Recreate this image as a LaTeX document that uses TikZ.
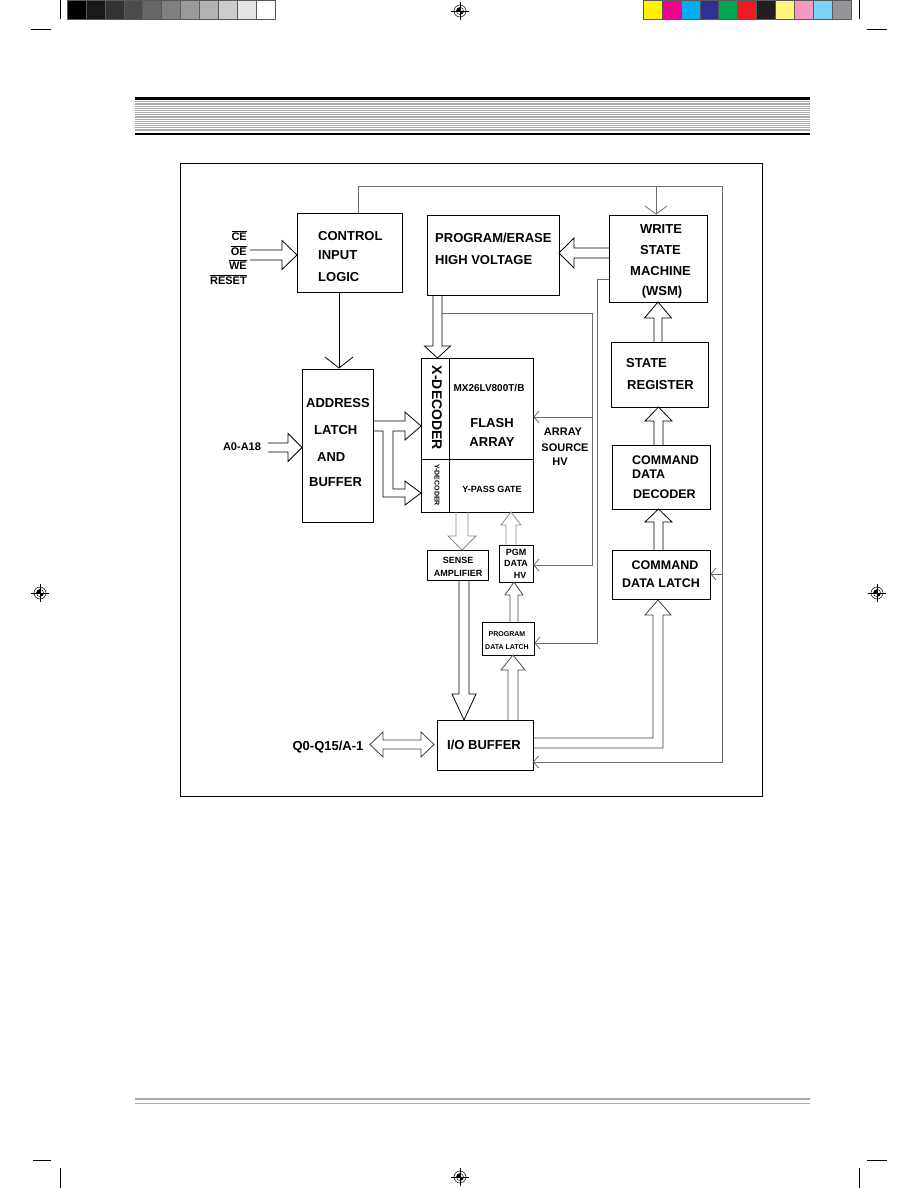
\documentclass[tikz,border=0pt]{standalone}
\usepackage{fontspec}
\setmainfont{Liberation Sans}
\usetikzlibrary{arrows.meta,calc}
\definecolor{cy}{HTML}{FFF200}
\definecolor{cm}{HTML}{EC008C}
\definecolor{cc}{HTML}{00AEEF}
\definecolor{cb}{HTML}{2E3192}
\definecolor{cg}{HTML}{00A651}
\definecolor{cr}{HTML}{ED1C24}
\definecolor{ck}{HTML}{231F20}
\definecolor{cly}{HTML}{FFF57C}
\definecolor{cp}{HTML}{F49AC2}
\definecolor{clb}{HTML}{7DD0F7}
\definecolor{cgr}{HTML}{939598}
\definecolor{loopc}{HTML}{6E6E6E}
\definecolor{stripe}{HTML}{AAAAAA}
\newcommand\fsz[1]{\fontsize{#1}{#1}\selectfont\bfseries}
\newcommand\myovl[1]{\leavevmode\vbox{\hrule height 0.8pt\kern1.3pt\hbox{#1}}}
% vertical hollow arrow: [colour] x, y tail, y tip, shaft half width, head half width, head length
\newcommand\myvarr[7][black]{%
  \pgfmathsetmacro\myS{sign(#4-#3)}%
  \pgfmathsetmacro\myB{#4-\myS*#7}%
  \draw[#1,hollow] ({#2-#5},#3) -- ({#2-#5},\myB) -- ({#2-#6},\myB) -- (#2,#4)
     -- ({#2+#6},\myB) -- ({#2+#5},\myB) -- ({#2+#5},#3);}
% horizontal hollow arrow: [colour] y, x tail, x tip, shaft half width, head half width, head length
\newcommand\myharr[7][black]{%
  \pgfmathsetmacro\myS{sign(#4-#3)}%
  \pgfmathsetmacro\myB{#4-\myS*#7}%
  \draw[#1,hollow] (#3,{#2-#5}) -- (\myB,{#2-#5}) -- (\myB,{#2-#6}) -- (#4,#2)
     -- (\myB,{#2+#6}) -- (\myB,{#2+#5}) -- (#3,{#2+#5});}
\newcommand\myreg[2]{%
  \draw[line width=0.5pt] (#1,#2) circle (6pt);
  \draw[line width=0.6pt] (#1-9,#2) -- (#1+9,#2) (#1,#2-9) -- (#1,#2+9);
  \fill (#1,#2) -- (#1-3.6,#2) arc[start angle=180,end angle=90,radius=3.6pt] -- cycle;
  \fill (#1,#2) -- (#1+3.6,#2) arc[start angle=0,end angle=-90,radius=3.6pt] -- cycle;
  \draw[line width=0.4pt] (#1,#2) circle (3.6pt);}
\begin{document}
\begin{tikzpicture}[x=1pt,y=-1pt,
  box/.style={draw=black,line width=0.9pt,fill=none,inner sep=0pt},
  lbl/.style={inner sep=0pt,text=black},
  hollow/.style={line width=0.8pt,line join=miter},
  loopline/.style={draw=loopc,line width=0.8pt},
  thin/.style={-{Straight Barb[length=5pt,width=12pt]}},
  bigv/.style={-{Straight Barb[length=11pt,width=28pt]}},
  midv/.style={-{Straight Barb[length=8pt,width=22pt]}}]
\useasboundingbox (0,0) rectangle (918,1188);
\fill[white] (0,0) rectangle (918,1188);

% ---- printer colour bars ----
\foreach \p [count=\i from 0] in {100,90,80,70,60,50,40,30,20,10,0}
  \draw[fill=black!\p,draw=black!65,line width=0.4pt] ({67+\i*18.9},0) rectangle ({67+(\i+1)*18.9},19.3);
\foreach \c [count=\i from 0] in {cy,cm,cc,cb,cg,cr,ck,cly,cp,clb,cgr}
  \draw[fill=\c,draw=black!65,line width=0.4pt] ({643+\i*18.9},0) rectangle ({643+(\i+1)*18.9},19.3);
% crop marks
\draw[line width=0.6pt] (60,0) -- (60,19) (31,29) -- (51,29);
\draw[line width=0.6pt] (859,0) -- (859,19) (867,29) -- (887,29);
\draw[line width=0.6pt] (60,1168) -- (60,1188) (33,1160) -- (51,1160);
\draw[line width=0.6pt] (859,1168) -- (859,1188) (867,1160) -- (887,1160);
\myreg{460}{11}
\myreg{40}{593}
\myreg{877}{593}
\myreg{460}{1177}

% ---- page header ----
\fill[black] (135,97) rectangle (810,99.7);
\foreach \i in {0,...,16}
  \draw[stripe,line width=1pt] (135,{101.3+\i*1.85}) -- (810,{101.3+\i*1.85});
\fill[black] (135,132.7) rectangle (810,135.3);
% ---- page footer ----
\fill[stripe] (135,1097.5) rectangle (810,1100.3);
\draw[stripe,line width=0.8pt] (135,1103) -- (810,1103);

% ---- frame ----
\draw[line width=0.8pt] (180,163) rectangle (762,796);

% ---- boxes ----
\node[box,minimum width=105pt,minimum height=79pt] (ctrl) at (349.5,252.5) {};
\node[box,minimum width=132pt,minimum height=80pt] (pe) at (493,255) {};
\node[box,minimum width=98pt,minimum height=87pt] (wsm) at (658,258.5) {};
\node[box,minimum width=97pt,minimum height=65pt] (sr) at (659.5,374.5) {};
\node[box,minimum width=98pt,minimum height=64pt] (cdd) at (661,477) {};
\node[box,minimum width=98pt,minimum height=49pt] (cdl) at (661,574.5) {};
\node[box,minimum width=71pt,minimum height=153pt] (addr) at (337.5,445.5) {};
\node[box,minimum width=112pt,minimum height=154pt] (flash) at (477,435) {};
\draw[line width=0.9pt] (449,358) -- (449,512) (421,459) -- (533,459);
\node[box,minimum width=61pt,minimum height=30pt] (sense) at (457.5,565) {};
\node[box,minimum width=34pt,minimum height=37pt] (pgm) at (516,563.5) {};
\node[box,minimum width=52pt,minimum height=33pt] (pdl) at (508,638.5) {};
\node[box,minimum width=96pt,minimum height=50pt] (io) at (485,745) {};

% ---- texts ----
\node[lbl,anchor=west,font=\fsz{13}] (t1) at (318,236) {CONTROL};
\node[lbl,anchor=west,font=\fsz{13}] (t2) at (318,255) {INPUT};
\node[lbl,anchor=west,font=\fsz{13}] (t3) at (318,277) {LOGIC};
\node[lbl,anchor=west,font=\fsz{13}] (t4) at (435,238) {PROGRAM/ERASE};
\node[lbl,anchor=west,font=\fsz{13}] (t5) at (435,260) {HIGH VOLTAGE};
\node[lbl,font=\fsz{13}] (t6) at (661,229) {WRITE};
\node[lbl,font=\fsz{13}] (t7) at (660.5,250) {STATE};
\node[lbl,font=\fsz{13}] (t8) at (660.5,271) {MACHINE};
\node[lbl,font=\fsz{13}] (t9) at (662,292) {(WSM)};
\node[lbl,anchor=west,font=\fsz{13}] (t10) at (626,363) {STATE};
\node[lbl,anchor=west,font=\fsz{13}] (t11) at (627,385) {REGISTER};
\node[lbl,anchor=west,font=\fsz{12.5}] (t12) at (632,460) {COMMAND};
\node[lbl,anchor=west,font=\fsz{12.5}] (t13) at (632,474) {DATA};
\node[lbl,anchor=west,font=\fsz{12.5}] (t14) at (633,494) {DECODER};
\node[lbl,font=\fsz{12.5}] (t15) at (665,565) {COMMAND};
\node[lbl,font=\fsz{12.5}] (t16) at (661,583) {DATA LATCH};
\node[lbl,anchor=west,font=\fsz{13}] (t17) at (306,403) {ADDRESS};
\node[lbl,anchor=west,font=\fsz{13}] (t18) at (314,430) {LATCH};
\node[lbl,anchor=west,font=\fsz{13}] (t19) at (317,457) {AND};
\node[lbl,anchor=west,font=\fsz{13}] (t20) at (309,482) {BUFFER};
\node[lbl,rotate=-90,font=\fsz{14}] (t21) at (437,408) {X-DECODER};
\node[lbl,rotate=-90,font=\fsz{7}] (t22) at (437,485) {Y-DECODER};
\node[lbl,font=\fsz{10}] (t23) at (489,388) {MX26LV800T/B};
\node[lbl,font=\fsz{13}] (t24) at (492,423) {FLASH};
\node[lbl,font=\fsz{13}] (t25) at (492,442) {ARRAY};
\node[lbl,font=\fsz{9}] (t26) at (492,489) {Y-PASS GATE};
\node[lbl,font=\fsz{11}] (t27) at (563,432) {ARRAY};
\node[lbl,font=\fsz{11}] (t28) at (565,448) {SOURCE};
\node[lbl,font=\fsz{11}] (t29) at (560,462) {HV};
\node[lbl,font=\fsz{9}] (t30) at (458,560) {SENSE};
\node[lbl,font=\fsz{9}] (t31) at (458,573) {AMPLIFIER};
\node[lbl,font=\fsz{9}] (t32) at (516,552) {PGM};
\node[lbl,font=\fsz{9}] (t33) at (516,563) {DATA};
\node[lbl,font=\fsz{9}] (t34) at (520,575) {HV};
\node[lbl,font=\fsz{7}] (t35) at (507,634) {PROGRAM};
\node[lbl,font=\fsz{7}] (t36) at (507,647) {DATA LATCH};
\node[lbl,font=\fsz{13}] (t37) at (484,745) {I/O BUFFER};
\node[lbl,font=\fsz{13}] (t38) at (328,747) {Q0-Q15/A-1};
\node[lbl,font=\fsz{11}] (t39) at (242,447) {A0-A18};
\node[lbl,anchor=east,font=\fsz{11}] (t40) at (247,236) {\myovl{CE}};
\node[lbl,anchor=east,font=\fsz{11}] (t41) at (247,250.5) {\myovl{OE}};
\node[lbl,anchor=east,font=\fsz{11}] (t42) at (247,265) {\myovl{WE}};
\node[lbl,anchor=east,font=\fsz{11}] (t43) at (247,279.5) {\myovl{RESET}};

% ---- hollow (bus) arrows ----
\myharr{255}{250}{297}{5}{14.5}{15}
\myharr{447.5}{268}{302}{4.5}{14}{14}
\myharr{253}{609}{559}{5}{15}{15}
\myvarr{437.5}{295}{358}{4.5}{13}{12}
\draw[hollow] (373,421) -- (405,421) -- (405,412) -- (421,426) -- (405,440) -- (405,431)
  -- (393,431) -- (393,489) -- (405,489) -- (405,481) -- (421,493) -- (405,505) -- (405,497)
  -- (383,497) -- (383,431) -- (373,431);
\myvarr[black!45]{462}{512}{550}{6}{14}{14}
\myvarr[black!45]{511}{545}{512}{5}{10}{13}
\myvarr[black!70]{514}{622}{582}{4}{9}{13}
\myvarr{464}{580}{720}{5}{12}{26}
\myvarr[black!70]{513}{720}{655}{5}{12}{15}
\draw[hollow,black!75] (533,738) -- (653,738) -- (653,615) -- (645,615) -- (658,600) -- (671,615)
  -- (663,615) -- (663,748) -- (533,748);
\myvarr{658.5}{550}{509}{4.5}{13.5}{13}
\myvarr{658.5}{445}{407}{4.5}{13.5}{14}
\myvarr{658}{342}{302}{4}{13.5}{16}
\draw[hollow,black!75] (370,744.5) -- (383,732) -- (383,740) -- (421,740) -- (421,732) -- (434,744.5)
  -- (421,757) -- (421,749) -- (383,749) -- (383,757) -- cycle;

% ---- thin connectors ----
\coordinate (ca) at ([xshift=-10.5pt]ctrl.south);
\draw[line width=0.8pt,bigv] (ca) -- (ca |- addr.north);
\coordinate (ctop) at ([xshift=8.5pt]ctrl.north);
\coordinate (tr) at (722,186);
\coordinate (iob) at (533,762);
\draw[loopline,thin] (ctop) |- (tr) |- (iob);
\coordinate (jt) at (656,186);
\draw[loopline,midv] (jt) -- (jt |- wsm.north);
\coordinate (cdlin) at (722,574);
\draw[loopline,thin] (cdlin) -- (cdl.east |- cdlin);
\coordinate (hvtap) at (442,313);
\coordinate (hvc) at (592,565);
\draw[loopline,thin] (hvtap) -| (hvc) -- (pgm.east |- hvc);
\coordinate (asrc) at (592,417);
\draw[loopline,thin] (asrc) -- (flash.east |- asrc);
\coordinate (wl) at (597,643);
\draw[loopline,thin] ([yshift=-20.5pt]wsm.west) -| (wl) -- (pdl.east |- wl);
\end{tikzpicture}
\end{document}
